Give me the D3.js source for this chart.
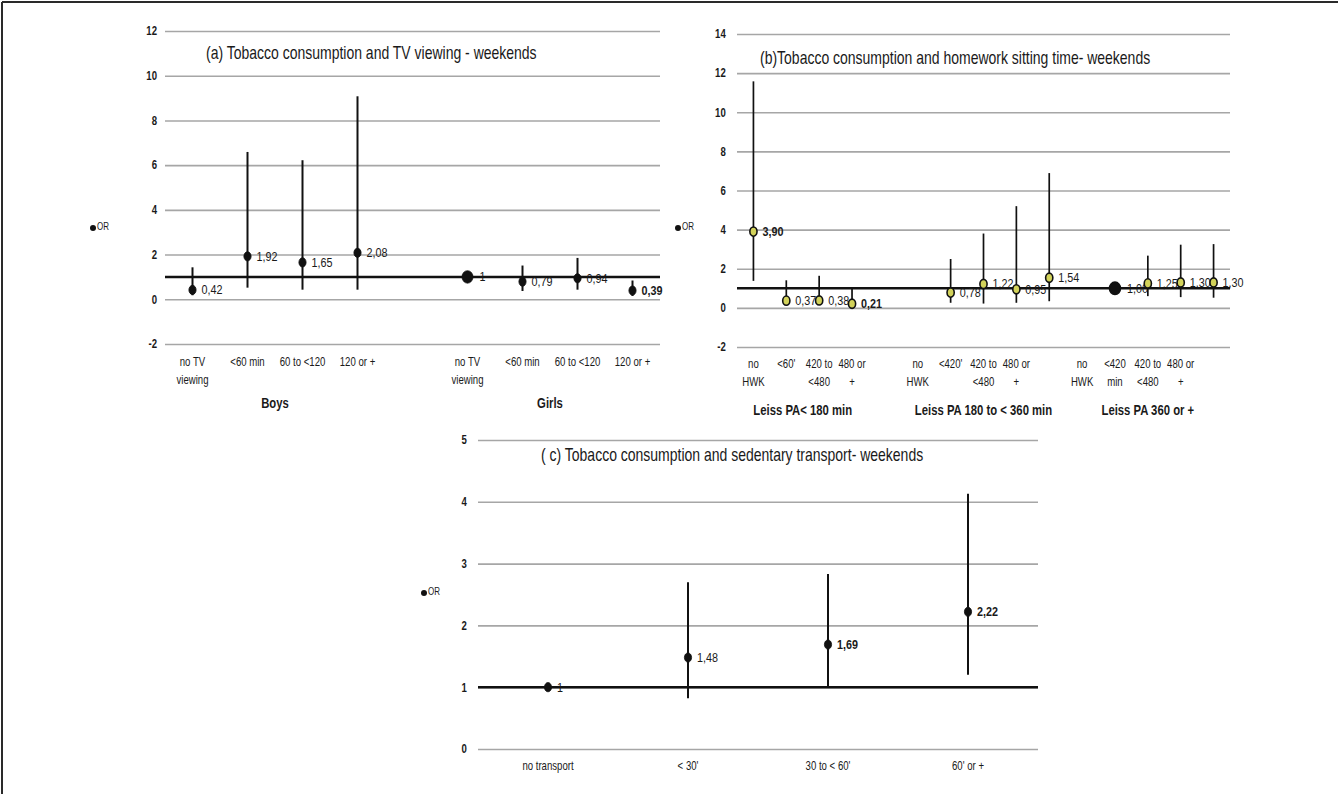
<!DOCTYPE html>
<html>
<head>
<meta charset="utf-8">
<script src="https://cdn.jsdelivr.net/npm/d3@7"></script>
<style>
  html, body { margin: 0; padding: 0; background: #fff; }
  svg { display: block; }
  text { font-family: "Liberation Sans", Arial, sans-serif; fill: #1a1a1a; }
</style>
</head>
<body>
<svg id="chart" width="1338" height="794"></svg>
<script>
// ---------------- DATA ----------------
// Panel (a): Tobacco consumption and TV viewing - weekends
const aCategories = ["B_noTV", "B_lt60", "B_60to120", "B_120p", "gap", "G_noTV", "G_lt60", "G_60to120", "G_120p"];
const aTickLabels = [["no TV", "viewing"], ["<60 min"], ["60 to <120"], ["120 or +"], [], ["no TV", "viewing"], ["<60 min"], ["60 to <120"], ["120 or +"]];
const aOR   = [0.42, 1.92, 1.65, 2.08, null, 1.00, 0.79, 0.94, 0.39];
const aLow  = [0.18, 0.52, 0.43, 0.43, null, null, 0.37, 0.43, 0.15];
const aHigh = [1.43, 6.59, 6.22, 9.08, null, null, 1.51, 1.85, 0.84];
const aValueLabels = ["0,42", "1,92", "1,65", "2,08", null, "1", "0,79", "0,94", "0,39"];
const aBold = [false, false, false, false, false, false, false, false, true];
const aRef  = [false, false, false, false, false, true, false, false, false];
const aGroups = [{ name: "Boys", from: "B_noTV", to: "B_120p" }, { name: "Girls", from: "G_noTV", to: "G_120p" }];
const aYTicks = [-2, 0, 2, 4, 6, 8, 10, 12];

// Panel (b): Tobacco consumption and homework sitting time - weekends
const bCategories = ["s0", "s1", "s2", "s3", "s4", "s5", "s6", "s7", "s8", "s9", "s10", "s11", "s12", "s13", "s14"];
const bTickLabels = [["no", "HWK"], ["<60'"], ["420 to", "<480"], ["480 or", "+"], [],
                     ["no", "HWK"], ["<420'"], ["420 to", "<480"], ["480 or", "+"], [],
                     ["no", "HWK"], ["<420", "min"], ["420 to", "<480"], ["480 or", "+"], []];
const bPointSlots = ["s0", "s1", "s2", "s3", "s6", "s7", "s8", "s9", "s11", "s12", "s13", "s14"];
const bOR   = [3.90, 0.37, 0.38, 0.21, 0.78, 1.22, 0.95, 1.54, 1.00, 1.25, 1.30, 1.30];
const bLow  = [1.38, 0.26, 0.26, 0.12, 0.26, 0.22, 0.26, 0.34, null, 0.60, 0.55, 0.52];
const bHigh = [11.58, 1.41, 1.64, 0.98, 2.50, 3.80, 5.20, 6.89, null, 2.67, 3.23, 3.26];
const bValueLabels = ["3,90", "0,37", "0,38", "0,21", "0,78", "1,22", "0,95", "1,54", "1,00", "1,25", "1,30", "1,30"];
const bBold = [true, false, false, true, false, false, false, false, false, false, false, false];
const bRef  = [false, false, false, false, false, false, false, false, true, false, false, false];
const bGroups = [{ name: "Leiss PA< 180 min", from: "s0", to: "s3" },
                 { name: "Leiss PA 180 to < 360 min", from: "s5", to: "s9" },
                 { name: "Leiss PA 360 or +", from: "s10", to: "s14" }];
const bYTicks = [-2, 0, 2, 4, 6, 8, 10, 12, 14];

// Panel (c): Tobacco consumption and sedentary transport - weekends
const cCategories = ["no transport", "< 30'", "30 to < 60'", "60' or +"];
const cOR   = [1.00, 1.48, 1.69, 2.22];
const cLow  = [null, 0.82, 1.00, 1.20];
const cHigh = [null, 2.70, 2.83, 4.13];
const cValueLabels = ["1", "1,48", "1,69", "2,22"];
const cBold = [false, false, true, true];
const cYTicks = [0, 1, 2, 3, 4, 5];

// ---------------- DRAWING ----------------
const SX = 0.8; // horizontal condensing of the font (the original uses a narrow face)
const svg = d3.select("#chart");

// condensed text helper
function ctext(parent, x, y, lines, o = {}) {
  const t = parent.append("text")
    .attr("transform", `translate(${x},${y}) scale(${o.sx || SX},1)`)
    .attr("font-size", o.size || 12)
    .attr("font-weight", o.weight || "normal")
    .attr("text-anchor", o.anchor || "start")
    .attr("dominant-baseline", "middle");
  if (o.fill) t.attr("fill", o.fill);
  (Array.isArray(lines) ? lines : [lines]).forEach((l, j) =>
    t.append("tspan").attr("x", 0).attr("dy", j === 0 ? 0 : (o.lineH || 18)).text(l));
  return t;
}

// outer frame (top and left edges)
svg.append("line").attr("x1", 2).attr("x2", 1338).attr("y1", 2).attr("y2", 2).attr("stroke", "#2a2a2a").attr("stroke-width", 2);
svg.append("line").attr("x1", 2).attr("x2", 2).attr("y1", 2).attr("y2", 794).attr("stroke", "#2a2a2a").attr("stroke-width", 2);

function panel(opt) {
  const g = svg.append("g");
  const x = d3.scaleBand().domain(opt.categories).range([opt.x0, opt.x1]);
  const y = d3.scaleLinear().domain(opt.yDomain).range([opt.yBottom, opt.yTop]);
  const cx = k => x(k) + x.bandwidth() / 2;

  // gridlines + tick labels
  const ax = g.append("g").attr("transform", `translate(${opt.x0},0)`)
    .call(d3.axisLeft(y).tickValues(opt.yTicks).tickFormat(d => String(d))
      .tickSize(-(opt.x1 - opt.x0)).tickPadding(opt.tickPad || 10));
  ax.select(".domain").remove();
  ax.selectAll(".tick line").attr("stroke", "#a6a6a6").attr("stroke-width", 1.6);
  ax.selectAll(".tick text").attr("font-size", 12).attr("font-weight", "bold")
    .attr("transform", `scale(${SX},1)`)
    .style("font-family", '"Liberation Sans", Arial, sans-serif').attr("fill", "#1a1a1a");

  // reference line at OR = 1
  g.append("line").attr("x1", opt.x0).attr("x2", opt.x1).attr("y1", y(1)).attr("y2", y(1))
    .attr("stroke", "#111").attr("stroke-width", 2.6);

  // title
  ctext(g, opt.titleX, opt.titleY, opt.title, { size: 17.5, sx: 0.8 });

  // legend
  g.append("circle").attr("cx", opt.legX).attr("cy", opt.legY).attr("r", 3).attr("fill", "#111");
  ctext(g, opt.legX + 4, opt.legY, "OR", { size: 10 });

  // x tick labels
  opt.categories.forEach((k, i) => {
    const lines = opt.tickLabels[i];
    if (!lines || !lines.length) return;
    ctext(g, cx(k), opt.tickY, lines, { size: 12, anchor: "middle", lineH: 18 });
  });

  // group labels
  (opt.groups || []).forEach(gr => {
    ctext(g, (cx(gr.from) + cx(gr.to)) / 2, opt.groupY, gr.name,
      { size: 14.5, weight: "bold", anchor: "middle", sx: 0.78 });
  });

  // error bars, points, value labels
  opt.points.forEach((k, i) => {
    if (opt.or[i] == null) return;
    const px = cx(k);
    if (opt.low[i] != null) {
      g.append("line").attr("x1", px).attr("x2", px).attr("y1", y(opt.low[i])).attr("y2", y(opt.high[i]))
        .attr("stroke", "#111").attr("stroke-width", opt.barWidth);
    }
    const big = opt.ref && opt.ref[i];
    g.append("ellipse").attr("cx", px).attr("cy", y(opt.or[i]))
      .attr("rx", big ? 5.5 : 3.6).attr("ry", big ? 6.2 : 4.6)
      .attr("fill", big ? "#111" : opt.pointFill).attr("stroke", "#111").attr("stroke-width", opt.pointStroke);
    ctext(g, px + (big ? 12 : 9), y(opt.or[i]) + 1, opt.labels[i],
      { size: 13.5, weight: opt.bold[i] ? "bold" : "normal" });
  });
}

panel({
  categories: aCategories, points: aCategories, tickLabels: aTickLabels,
  x0: 165, x1: 660, yTop: 31, yBottom: 344, yDomain: [-2, 12], yTicks: aYTicks,
  or: aOR, low: aLow, high: aHigh, labels: aValueLabels, bold: aBold, ref: aRef,
  pointFill: "#111", pointStroke: 0.8, barWidth: 2,
  title: "(a) Tobacco consumption and TV viewing - weekends", titleX: 206, titleY: 55,
  legX: 93, legY: 228, tickY: 363, groups: aGroups, groupY: 405
});

panel({
  categories: bCategories, points: bPointSlots, tickLabels: bTickLabels,
  x0: 737, x1: 1230, yTop: 34, yBottom: 347, yDomain: [-2, 14], yTicks: bYTicks, tickPad: 14,
  or: bOR, low: bLow, high: bHigh, labels: bValueLabels, bold: bBold, ref: bRef,
  pointFill: "#d2d25a", pointStroke: 1.6, barWidth: 1.7,
  title: "(b)Tobacco consumption and homework sitting time- weekends", titleX: 760, titleY: 60,
  legX: 678, legY: 228, tickY: 365, groups: bGroups, groupY: 412
});

panel({
  categories: cCategories, points: cCategories, tickLabels: cCategories.map(c => [c]),
  x0: 478, x1: 1038, yTop: 440, yBottom: 749, yDomain: [0, 5], yTicks: cYTicks, tickPad: 14,
  or: cOR, low: cLow, high: cHigh, labels: cValueLabels, bold: cBold, ref: null,
  pointFill: "#111", pointStroke: 0.8, barWidth: 2,
  title: "( c) Tobacco consumption and sedentary transport- weekends", titleX: 541, titleY: 457,
  legX: 424, legY: 593, tickY: 767, groups: [], groupY: 0
});
</script>
</body>
</html>
